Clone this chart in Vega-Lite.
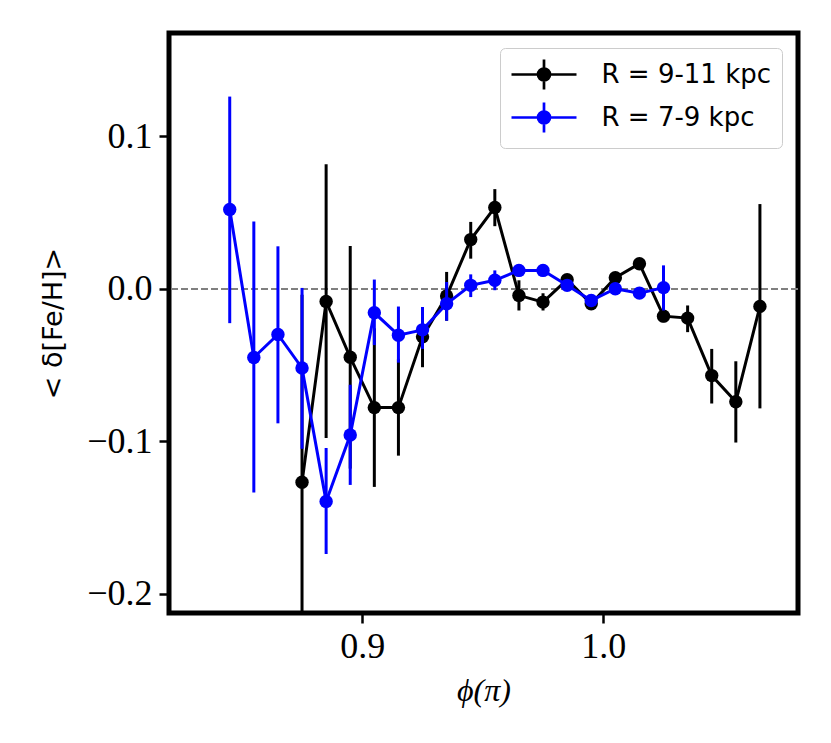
{
  "$schema": "https://vega.github.io/schema/vega-lite/v6.json",
  "width": 629,
  "height": 580,
  "autosize": {"type": "none"},
  "padding": {"left": 169, "top": 33, "right": 33, "bottom": 130},
  "background": "white",
  "datasets": {
    "pts": [
      {"R": "R = 9-11 kpc", "phi": 0.875, "feh": -0.127, "lo": -0.25, "hi": -0.004},
      {"R": "R = 9-11 kpc", "phi": 0.885, "feh": -0.0084, "lo": -0.098, "hi": 0.0817},
      {"R": "R = 9-11 kpc", "phi": 0.895, "feh": -0.045, "lo": -0.118, "hi": 0.028},
      {"R": "R = 9-11 kpc", "phi": 0.905, "feh": -0.078, "lo": -0.130, "hi": -0.026},
      {"R": "R = 9-11 kpc", "phi": 0.915, "feh": -0.078, "lo": -0.1095, "hi": -0.046},
      {"R": "R = 9-11 kpc", "phi": 0.925, "feh": -0.0316, "lo": -0.0515, "hi": -0.012},
      {"R": "R = 9-11 kpc", "phi": 0.935, "feh": -0.0048, "lo": -0.021, "hi": 0.011},
      {"R": "R = 9-11 kpc", "phi": 0.945, "feh": 0.0322, "lo": 0.0197, "hi": 0.0438},
      {"R": "R = 9-11 kpc", "phi": 0.955, "feh": 0.0533, "lo": 0.041, "hi": 0.0653},
      {"R": "R = 9-11 kpc", "phi": 0.965, "feh": -0.0044, "lo": -0.0143, "hi": 0.0055},
      {"R": "R = 9-11 kpc", "phi": 0.975, "feh": -0.0088, "lo": -0.0143, "hi": -0.003},
      {"R": "R = 9-11 kpc", "phi": 0.985, "feh": 0.0059, "lo": 0.003, "hi": 0.009},
      {"R": "R = 9-11 kpc", "phi": 0.995, "feh": -0.0099, "lo": -0.0135, "hi": -0.006},
      {"R": "R = 9-11 kpc", "phi": 1.005, "feh": 0.0072, "lo": 0.004, "hi": 0.010},
      {"R": "R = 9-11 kpc", "phi": 1.015, "feh": 0.0164, "lo": 0.0135, "hi": 0.019},
      {"R": "R = 9-11 kpc", "phi": 1.025, "feh": -0.018, "lo": -0.022, "hi": -0.014},
      {"R": "R = 9-11 kpc", "phi": 1.035, "feh": -0.0193, "lo": -0.0285, "hi": -0.011},
      {"R": "R = 9-11 kpc", "phi": 1.045, "feh": -0.057, "lo": -0.0753, "hi": -0.0395},
      {"R": "R = 9-11 kpc", "phi": 1.055, "feh": -0.0741, "lo": -0.1009, "hi": -0.0476},
      {"R": "R = 9-11 kpc", "phi": 1.065, "feh": -0.0116, "lo": -0.0785, "hi": 0.0555},
      {"R": "R = 7-9 kpc", "phi": 0.845, "feh": 0.0519, "lo": -0.0226, "hi": 0.126},
      {"R": "R = 7-9 kpc", "phi": 0.855, "feh": -0.0451, "lo": -0.1336, "hi": 0.044},
      {"R": "R = 7-9 kpc", "phi": 0.865, "feh": -0.030, "lo": -0.0883, "hi": 0.0278},
      {"R": "R = 7-9 kpc", "phi": 0.875, "feh": -0.052, "lo": -0.105, "hi": 0.0005},
      {"R": "R = 7-9 kpc", "phi": 0.885, "feh": -0.1395, "lo": -0.174, "hi": -0.1045},
      {"R": "R = 7-9 kpc", "phi": 0.895, "feh": -0.096, "lo": -0.1287, "hi": -0.063},
      {"R": "R = 7-9 kpc", "phi": 0.905, "feh": -0.0158, "lo": -0.037, "hi": 0.006},
      {"R": "R = 7-9 kpc", "phi": 0.915, "feh": -0.0305, "lo": -0.0485, "hi": -0.0117},
      {"R": "R = 7-9 kpc", "phi": 0.925, "feh": -0.027, "lo": -0.0395, "hi": -0.012},
      {"R": "R = 7-9 kpc", "phi": 0.935, "feh": -0.0099, "lo": -0.021, "hi": 0.0044},
      {"R": "R = 7-9 kpc", "phi": 0.945, "feh": 0.0022, "lo": -0.0055, "hi": 0.0094},
      {"R": "R = 7-9 kpc", "phi": 0.955, "feh": 0.0055, "lo": -0.001, "hi": 0.012},
      {"R": "R = 7-9 kpc", "phi": 0.965, "feh": 0.012, "lo": 0.008, "hi": 0.016},
      {"R": "R = 7-9 kpc", "phi": 0.975, "feh": 0.012, "lo": 0.008, "hi": 0.016},
      {"R": "R = 7-9 kpc", "phi": 0.985, "feh": 0.0022, "lo": -0.0015, "hi": 0.006},
      {"R": "R = 7-9 kpc", "phi": 0.995, "feh": -0.0077, "lo": -0.011, "hi": -0.004},
      {"R": "R = 7-9 kpc", "phi": 1.005, "feh": 0.0, "lo": -0.003, "hi": 0.003},
      {"R": "R = 7-9 kpc", "phi": 1.015, "feh": -0.0029, "lo": -0.006, "hi": 0.0005},
      {"R": "R = 7-9 kpc", "phi": 1.025, "feh": 0.0007, "lo": -0.0143, "hi": 0.0153}
    ]
  },
  "data": {"name": "pts"},
  "encoding": {
    "x": {
      "field": "phi", "type": "quantitative",
      "scale": {"domain": [0.8198, 1.0808], "nice": false, "zero": false},
      "axis": {"values": [0.9, 1.0], "format": ".1f", "title": "ϕ(π)"}
    },
    "y": {
      "field": "feh", "type": "quantitative",
      "scale": {"domain": [-0.2127, 0.1677], "nice": false, "zero": false},
      "axis": {"values": [-0.2, -0.1, 0, 0.1], "format": ".1f", "title": "< δ[Fe/H]>"}
    },
    "color": {
      "field": "R", "type": "nominal", "title": null,
      "scale": {"domain": ["R = 9-11 kpc", "R = 7-9 kpc"], "range": ["#000000", "#0000ff"]}
    }
  },
  "layer": [
    {
      "mark": {"type": "rule", "color": "#808080", "strokeWidth": 1.6, "strokeDash": [7, 3]},
      "encoding": {"y": {"datum": 0}, "x": null, "color": null}
    },
    {
      "transform": [{"filter": "datum.R === 'R = 9-11 kpc'"}],
      "mark": {"type": "rule", "strokeWidth": 3, "clip": true},
      "encoding": {"y": {"field": "lo", "type": "quantitative"}, "y2": {"field": "hi"}}
    },
    {
      "transform": [{"filter": "datum.R === 'R = 9-11 kpc'"}],
      "mark": {"type": "line", "strokeWidth": 3, "clip": true}
    },
    {
      "transform": [{"filter": "datum.R === 'R = 9-11 kpc'"}],
      "mark": {"type": "point", "filled": true, "size": 180, "opacity": 1, "clip": true}
    },
    {
      "transform": [{"filter": "datum.R === 'R = 7-9 kpc'"}],
      "mark": {"type": "rule", "strokeWidth": 3, "clip": true},
      "encoding": {"y": {"field": "lo", "type": "quantitative"}, "y2": {"field": "hi"}}
    },
    {
      "transform": [{"filter": "datum.R === 'R = 7-9 kpc'"}],
      "mark": {"type": "line", "strokeWidth": 3, "clip": true}
    },
    {
      "transform": [{"filter": "datum.R === 'R = 7-9 kpc'"}],
      "mark": {"type": "point", "filled": true, "size": 180, "opacity": 1, "clip": true}
    }
  ],
  "config": {
    "view": {"stroke": "#000000", "strokeWidth": 5},
    "axis": {
      "domain": false, "grid": false,
      "tickColor": "#000000", "tickWidth": 2.5, "tickSize": 10,
      "labelFont": "Liberation Serif", "labelFontSize": 36, "labelColor": "#000000",
      "titleColor": "#000000", "titleFontWeight": "normal"
    },
    "axisX": {
      "labelPadding": 6, "titleFont": "Liberation Serif", "titleFontStyle": "italic",
      "titleFontSize": 32, "titlePadding": 11
    },
    "axisY": {
      "labelPadding": 7, "titleFont": "DejaVu Sans", "titleFontSize": 27, "titlePadding": 19
    },
    "legend": {
      "orient": "none", "legendX": 331, "legendY": 15,
      "symbolType": "M-2.1667,0H2.1667M0,-1V1M0.4,0A0.4,0.4 0 1,1 -0.4,0A0.4,0.4 0 1,1 0.4,0Z",
      "symbolSize": 900, "symbolStrokeWidth": 2.7, "symbolOffset": 17.5,
      "labelFont": "DejaVu Sans", "labelFontSize": 26, "labelColor": "#000000", "labelOffset": 41,
      "padding": 10, "rowPadding": 2,
      "strokeColor": "#cccccc", "fillColor": "#ffffff", "cornerRadius": 5,
      "labelLimit": 400
    }
  }
}
